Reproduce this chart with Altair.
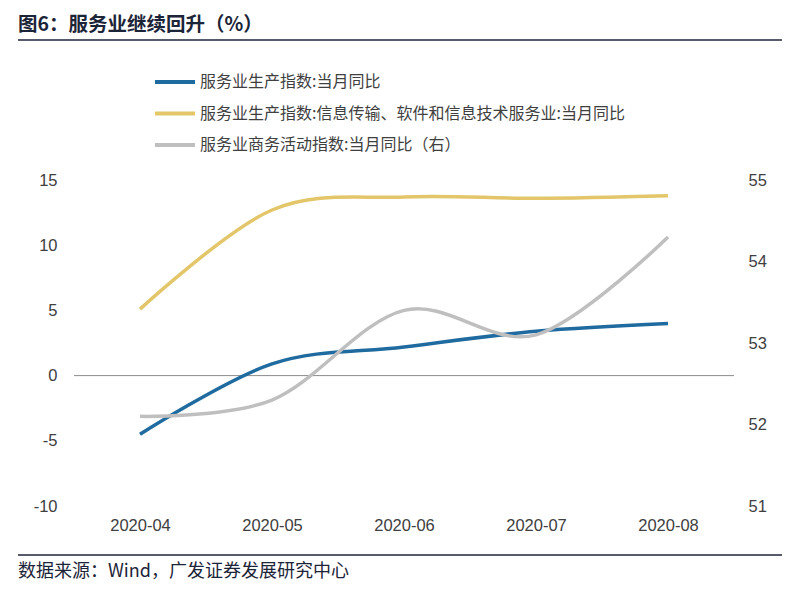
import altair as alt
import pandas as pd

months = ["2020-04", "2020-05", "2020-06", "2020-07", "2020-08"]
prod = [-4.5, 0.9, 2.2, 3.4, 4.0]
info = [5.1, 12.7, 13.7, 13.6, 13.8]
biz = [52.1, 52.3, 53.4, 53.1, 54.3]
names = [
    "服务业生产指数:当月同比",
    "服务业生产指数:信息传输、软件和信息技术服务业:当月同比",
    "服务业商务活动指数:当月同比（右）",
]
colors = ["#1F6BA0", "#E3C66A", "#BFBFBF"]
left_ticks = [-10, -5, 0, 5, 10, 15]
right_ticks = [51, 52, 53, 54, 55]
title_text = "图6：服务业继续回升（%）"
source_text = "数据来源：Wind，广发证券发展研究中心"

FONT = "Liberation Sans, Noto Sans CJK SC, sans-serif"
CJK = "Noto Sans CJK SC, Liberation Sans, sans-serif"
TICK = 16.5

left_df = pd.DataFrame({
    "month": months * 2,
    "value": prod + info,
    "series": [names[0]] * 5 + [names[1]] * 5,
})
right_df = pd.DataFrame({"month": months, "value": biz, "series": [names[2]] * 5})

xenc = alt.X("month:O", scale=alt.Scale(type="point", padding=0.5),
             axis=alt.Axis(title=None, labelAngle=0, domain=False, ticks=False,
                           labelPadding=11, labelFontSize=TICK, labelColor="#404040", labelFont=FONT))
color = alt.Color("series:N", sort=names,
                  scale=alt.Scale(domain=names, range=colors),
                  legend=alt.Legend(title=None, orient="none", legendX=79, legendY=-110,
                                    direction="vertical", symbolType="M-1,0H3", symbolSize=400,
                                    symbolStrokeWidth=4, labelOffset=23, labelFontSize=16,
                                    labelColor="#404040", labelFont=CJK, rowPadding=11.5,
                                    labelLimit=700))

yl_scale = alt.Scale(domain=[-10, 15], nice=False)
left_axis = alt.Axis(title=None, orient="left", values=left_ticks, grid=False, domain=False,
                     ticks=False, labelPadding=17, labelFontSize=TICK, labelColor="#404040",
                     labelFont=FONT, labelExpr="datum.value + ''")
zero = alt.Chart(pd.DataFrame({"z": [0]})).mark_rule(color="#8C8C8C", strokeWidth=1).encode(
    y=alt.Y("z:Q", scale=yl_scale, axis=left_axis))
lines_left = alt.Chart(left_df).mark_line(strokeWidth=3.5, interpolate="cardinal").encode(
    x=xenc,
    y=alt.Y("value:Q", scale=yl_scale, axis=left_axis),
    color=color,
)
left = alt.layer(zero, lines_left)

right = alt.Chart(right_df).mark_line(strokeWidth=3.5, interpolate="cardinal").encode(
    x=xenc,
    y=alt.Y("value:Q", scale=alt.Scale(domain=[51, 55], nice=False),
            axis=alt.Axis(title=None, orient="right", values=right_ticks, grid=False, domain=False,
                          ticks=False, labelPadding=14, labelFontSize=TICK, labelColor="#404040",
                          labelFont=FONT)),
    color=color,
)

title = alt.Chart(pd.DataFrame({"t": [title_text]})).mark_text(
    align="left", baseline="middle", fontSize=19.5, fontWeight="bold", font=CJK, color="#1C2438"
).encode(text="t:N", x=alt.value(-56), y=alt.value(-155))
title_rule = alt.Chart(pd.DataFrame({"t": [0]})).mark_rule(color="#1C2438", strokeWidth=1.3).encode(
    x=alt.value(-56), x2=alt.value(708), y=alt.value(-140))
source = alt.Chart(pd.DataFrame({"t": [source_text]})).mark_text(
    align="left", baseline="middle", fontSize=18, font=CJK, color="#1C2438"
).encode(text="t:N", x=alt.value(-56), y=alt.value(392))
source_rule = alt.Chart(pd.DataFrame({"t": [0]})).mark_rule(color="#1C2438", strokeWidth=1.3).encode(
    x=alt.value(-56), x2=alt.value(708), y=alt.value(375))

chart = alt.layer(left, right).resolve_scale(y="independent")
chart = alt.layer(chart, title, title_rule, source, source_rule).properties(
    width=660, height=326,
    autosize=alt.AutoSizeParams(type="none"),
    padding={"left": 66, "top": 172, "right": 50, "bottom": 77},
    background="white",
).configure_view(stroke=None)

chart.save("out.html", embed_options={"renderer": "svg", "actions": False})
